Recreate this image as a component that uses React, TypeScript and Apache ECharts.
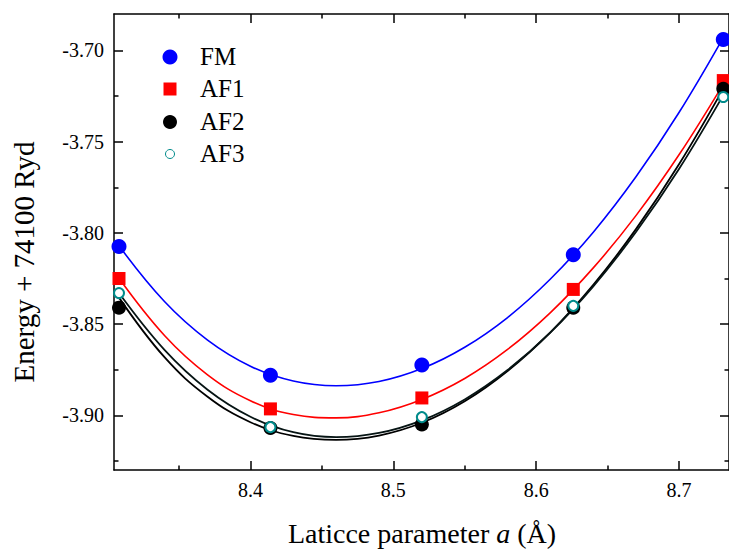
import React, { useEffect, useRef } from "react";
import * as echarts from "echarts";

const FONT = "Liberation Serif";

// Axis ranges and ticks
const X_MIN = 8.3045;
const X_MAX = 8.735;
const Y_MIN = -3.93;
const Y_MAX = -3.68;
const xMajor = [8.4, 8.5, 8.6, 8.7];
const xMinor = [8.35, 8.45, 8.55, 8.65];
const yMajor = [-3.9, -3.85, -3.8, -3.75, -3.7];
const yMinor = [-3.925, -3.875, -3.825, -3.775, -3.725];

// Calculated points
const pointX = [8.308, 8.414, 8.52, 8.626, 8.731];
const fmPts = [-3.8075, -3.878, -3.8725, -3.812, -3.694];
const af1Pts = [-3.825, -3.8965, -3.8905, -3.831, -3.7165];
const af2Pts = [-3.841, -3.907, -3.905, -3.841, -3.721];
const af3Pts = [-3.833, -3.9065, -3.901, -3.84, -3.7255];

// Fitted curves
const curveX = [8.308, 8.34, 8.37, 8.4, 8.43, 8.46, 8.49, 8.52, 8.55, 8.58, 8.61, 8.64, 8.67, 8.7, 8.731];
const fmCurve = [-3.8071, -3.8378, -3.8588, -3.8731, -3.8812, -3.8838, -3.8815, -3.8744, -3.8627, -3.8464, -3.8253, -3.7996, -3.7691, -3.734, -3.6929];
const af1Curve = [-3.8249, -3.8564, -3.8778, -3.892, -3.8996, -3.9014, -3.8986, -3.8913, -3.8798, -3.8639, -3.8437, -3.8192, -3.7904, -3.7572, -3.7184];
const af2Curve = [-3.8355, -3.8683, -3.8898, -3.9038, -3.9113, -3.9135, -3.9111, -3.9041, -3.8923, -3.8757, -3.8545, -3.8285, -3.7978, -3.7624, -3.7209];
const af3Curve = [-3.833, -3.8643, -3.886, -3.9008, -3.9093, -3.912, -3.9097, -3.9028, -3.8913, -3.8752, -3.8546, -3.8293, -3.7994, -3.765, -3.7245];

const legendNames = ["FM", "AF1", "AF2", "AF3"];

const zip = (xs: number[], ys: number[]) => xs.map((x, i) => [x, ys[i]]);

export default function App() {
  const ref = useRef<HTMLDivElement>(null);
  useEffect(() => {
    if (!ref.current) return;
    const chart = echarts.init(ref.current, null, { renderer: "svg" });
    const axisLine = { show: true, lineStyle: { color: "#000", width: 1.5 } };
    const labelStyle = { fontFamily: FONT, fontSize: 20, color: "#000", margin: 10 };
    const mkX = (pos: string, ticks: number[], len: number, labels: boolean, line: boolean) => ({
      type: "value",
      position: pos,
      min: X_MIN,
      max: X_MAX,
      axisLine: { ...axisLine, show: line },
      axisTick: { show: true, inside: true, length: len, customValues: ticks, lineStyle: { color: "#000", width: 1.5 } },
      axisLabel: labels
        ? { show: true, customValues: ticks, formatter: (v: number) => v.toFixed(1), ...labelStyle }
        : { show: false },
      splitLine: { show: false },
    });
    const mkY = (pos: string, ticks: number[], len: number, labels: boolean, line: boolean) => ({
      type: "value",
      position: pos,
      min: Y_MIN,
      max: Y_MAX,
      axisLine: { ...axisLine, show: line },
      axisTick: { show: true, inside: true, length: len, customValues: ticks, lineStyle: { color: "#000", width: 1.5 } },
      axisLabel: labels
        ? { show: true, customValues: ticks, formatter: (v: number) => v.toFixed(2), ...labelStyle }
        : { show: false },
      splitLine: { show: false },
    });
    const lineSeries = (name: string, ys: number[], color: string, width: number) => ({
      type: "line",
      name,
      data: zip(curveX, ys),
      smooth: 0.4,
      showSymbol: false,
      symbol: "none",
      lineStyle: { color, width },
      z: 2,
    });
    const scatter = (name: string, ys: number[], symbol: string, size: number, color: string, extra: any = {}) => ({
      type: "scatter",
      name,
      data: zip(pointX, ys),
      symbol,
      symbolSize: size,
      itemStyle: { color, opacity: 1, ...extra },
      z: 3,
    });
    const legendY = [57, 89, 122, 154];
    const legendText = [56, 88.5, 121, 153];
    chart.setOption({
      animation: false,
      textStyle: { fontFamily: FONT },
      grid: { left: 114, top: 14, width: 618, height: 456 },
      xAxis: [
        mkX("bottom", xMajor, 9, true, true),
        mkX("bottom", xMinor, 4.5, false, false),
        mkX("top", xMajor, 9, false, true),
        mkX("top", xMinor, 4.5, false, false),
      ],
      yAxis: [
        mkY("left", yMajor, 9, true, true),
        mkY("left", yMinor, 4.5, false, false),
        mkY("right", yMajor, 9, false, true),
        mkY("right", yMinor, 4.5, false, false),
      ],
      series: [
        lineSeries("FM fit", fmCurve, "#0000ff", 1.6),
        lineSeries("AF1 fit", af1Curve, "#ff0000", 1.6),
        lineSeries("AF2 fit", af2Curve, "#000000", 1.8),
        lineSeries("AF3 fit", af3Curve, "#061414", 1.8),
        scatter(legendNames[0], fmPts, "circle", 15, "#0000ff"),
        scatter(legendNames[1], af1Pts, "rect", 13, "#ff0000"),
        scatter(legendNames[2], af2Pts, "circle", 14, "#000000"),
        scatter(legendNames[3], af3Pts, "emptyCircle", 10, "#008b8b", { borderWidth: 1 }),
      ],
      graphic: [
        { type: "circle", shape: { cx: 170, cy: legendY[0], r: 7.5 }, style: { fill: "#0000ff" } },
        { type: "rect", shape: { x: 163.5, y: legendY[1] - 6.5, width: 13, height: 13 }, style: { fill: "#ff0000" } },
        { type: "circle", shape: { cx: 170, cy: legendY[2], r: 7 }, style: { fill: "#000000" } },
        { type: "circle", shape: { cx: 170, cy: legendY[3], r: 4.5 }, style: { fill: "#ffffff", stroke: "#008b8b", lineWidth: 1 } },
        ...legendNames.map((n, i) => ({
          type: "text",
          x: 200,
          y: legendText[i],
          style: { text: n, fontFamily: FONT, fontSize: 25, fill: "#000", align: "left", verticalAlign: "middle" },
        })),
        {
          type: "text",
          x: 422,
          y: 533,
          style: {
            text: "{n|Laticce parameter }{i|a}{n| (Å)}",
            align: "center",
            verticalAlign: "middle",
            fill: "#000",
            rich: {
              n: { fontFamily: FONT, fontSize: 28, fill: "#000" },
              i: { fontFamily: FONT, fontSize: 28, fontStyle: "italic", fill: "#000" },
            },
          },
        },
        {
          type: "text",
          x: 24,
          y: 262,
          rotation: Math.PI / 2,
          style: { text: "Energy + 74100 Ryd", fontFamily: FONT, fontSize: 29, fill: "#000", align: "center", verticalAlign: "middle" },
        },
      ],
    });
    return () => chart.dispose();
  }, []);
  return <div ref={ref} style={{ position: "absolute", left: 0, top: 0, width: 729, height: 550 }} />;
}
